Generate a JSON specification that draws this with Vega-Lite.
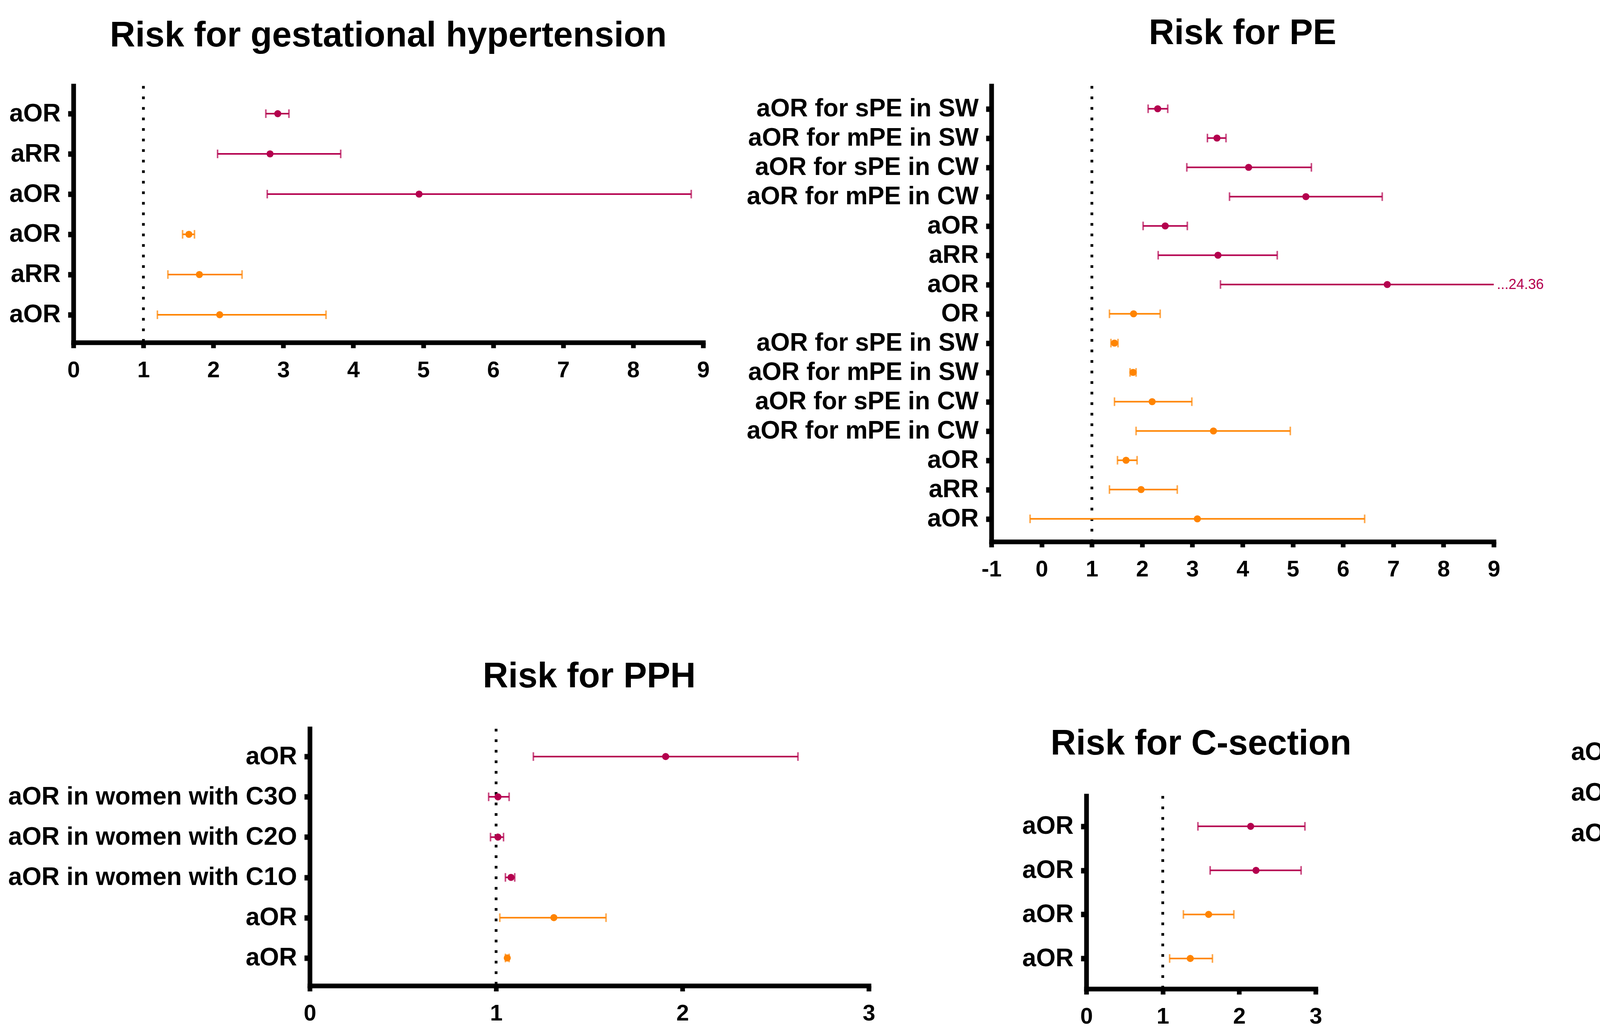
{
  "$schema": "https://vega.github.io/schema/vega-lite/v6.json",
  "padding": {"left": 0, "top": 40, "right": 0, "bottom": 0},
  "background": "white",
  "bounds": "full",
  "spacing": 200,
  "resolve": {"legend": {"color": "independent"}},
  "config": {
    "font": "Liberation Sans",
    "view": {"stroke": null},
    "axis": {"domainColor": "black", "domainWidth": 12, "domainCap": "square", "tickColor": "black", "grid": false, "labelFont": "Liberation Sans", "labelFontWeight": "bold", "labelColor": "black", "labelOverlap": false, "labelFlush": false, "labelLimit": 3000, "title": null},
    "axisX": {"tickSize": 14, "tickWidth": 12, "labelFontSize": 58, "labelPadding": 28},
    "axisY": {"tickSize": 14, "tickWidth": 14, "labelFontSize": 64, "labelPadding": 19},
    "title": {"font": "Liberation Sans", "fontSize": 90, "fontWeight": "bold", "color": "black", "baseline": "alphabetic", "anchor": "middle"}
  },
  "datasets": {
    "rows": [
      {"p":"GH","k":"01|aOR","g":"Obesity","v":2.92,"lo":2.75,"hi":3.08},
      {"p":"GH","k":"02|aRR","g":"Obesity","v":2.81,"lo":2.06,"hi":3.82},
      {"p":"GH","k":"03|aOR","g":"Obesity","v":4.94,"lo":2.77,"hi":8.83},
      {"p":"GH","k":"04|aOR","g":"Overweight","v":1.65,"lo":1.56,"hi":1.73},
      {"p":"GH","k":"05|aRR","g":"Overweight","v":1.80,"lo":1.35,"hi":2.41},
      {"p":"GH","k":"06|aOR","g":"Overweight","v":2.09,"lo":1.20,"hi":3.61},
      {"p":"PE","k":"01|aOR for sPE in SW","g":"Obesity","v":2.31,"lo":2.12,"hi":2.51},
      {"p":"PE","k":"02|aOR for mPE in SW","g":"Obesity","v":3.49,"lo":3.30,"hi":3.67},
      {"p":"PE","k":"03|aOR for sPE in CW","g":"Obesity","v":4.12,"lo":2.89,"hi":5.37},
      {"p":"PE","k":"04|aOR for mPE in CW","g":"Obesity","v":5.26,"lo":3.74,"hi":6.78},
      {"p":"PE","k":"05|aOR","g":"Obesity","v":2.46,"lo":2.02,"hi":2.90},
      {"p":"PE","k":"06|aRR","g":"Obesity","v":3.51,"lo":2.32,"hi":4.69},
      {"p":"PE","k":"07|aOR","g":"Obesity","v":6.88,"lo":3.56,"hi":24.36,"note":"...24.36"},
      {"p":"PE","k":"08|OR","g":"Overweight","v":1.83,"lo":1.35,"hi":2.36},
      {"p":"PE","k":"09|aOR for sPE in SW","g":"Overweight","v":1.45,"lo":1.38,"hi":1.52},
      {"p":"PE","k":"10|aOR for mPE in SW","g":"Overweight","v":1.82,"lo":1.76,"hi":1.88},
      {"p":"PE","k":"11|aOR for sPE in CW","g":"Overweight","v":2.20,"lo":1.45,"hi":2.99},
      {"p":"PE","k":"12|aOR for mPE in CW","g":"Overweight","v":3.42,"lo":1.88,"hi":4.95},
      {"p":"PE","k":"13|aOR","g":"Overweight","v":1.68,"lo":1.51,"hi":1.90},
      {"p":"PE","k":"14|aRR","g":"Overweight","v":1.98,"lo":1.35,"hi":2.70},
      {"p":"PE","k":"15|aOR","g":"Overweight","v":3.10,"lo":-0.23,"hi":6.43},
      {"p":"GDM","k":"01|aOR","g":"Obesity","v":2.77,"lo":2.59,"hi":2.95},
      {"p":"GDM","k":"02|OR","g":"Obesity","v":2.77,"lo":2.18,"hi":3.36},
      {"p":"GDM","k":"03|aOR","g":"Obesity","v":1.43,"lo":0.67,"hi":2.20},
      {"p":"GDM","k":"04|aOR for GDM²","g":"Obesity","v":9.52,"lo":4.41,"hi":38.48,"note":"...38.48"},
      {"p":"GDM","k":"05|aOR for GDM¹","g":"Obesity","v":3.30,"lo":1.51,"hi":5.11},
      {"p":"GDM","k":"06|aOR","g":"Overweight","v":1.79,"lo":1.69,"hi":1.88},
      {"p":"GDM","k":"07|aOR","g":"Overweight","v":1.66,"lo":1.24,"hi":2.09},
      {"p":"GDM","k":"08|aOR for GDM²","g":"Overweight","v":3.99,"lo":-0.51,"hi":8.47},
      {"p":"GDM","k":"09|aOR for GDM¹","g":"Overweight","v":1.35,"lo":0.65,"hi":2.07},
      {"p":"PPH","k":"01|aOR","g":"Obesity","v":1.91,"lo":1.20,"hi":2.62},
      {"p":"PPH","k":"02|aOR in women with C3O","g":"Obesity","v":1.01,"lo":0.96,"hi":1.07},
      {"p":"PPH","k":"03|aOR in women with C2O","g":"Obesity","v":1.01,"lo":0.97,"hi":1.04},
      {"p":"PPH","k":"04|aOR in women with C1O","g":"Obesity","v":1.08,"lo":1.05,"hi":1.10},
      {"p":"PPH","k":"05|aOR","g":"Overweight","v":1.31,"lo":1.02,"hi":1.59},
      {"p":"PPH","k":"06|aOR","g":"Overweight","v":1.06,"lo":1.05,"hi":1.07},
      {"p":"CS","k":"01|aOR","g":"Obesity","v":2.15,"lo":1.46,"hi":2.86},
      {"p":"CS","k":"02|aOR","g":"Obesity","v":2.22,"lo":1.62,"hi":2.81},
      {"p":"CS","k":"03|aOR","g":"Overweight","v":1.60,"lo":1.27,"hi":1.93},
      {"p":"CS","k":"04|aOR","g":"Overweight","v":1.36,"lo":1.09,"hi":1.65},
      {"p":"CSSI","k":"01|aOR in women with C3O","g":"Obesity","v":2.45,"lo":0.95,"hi":3.90},
      {"p":"CSSI","k":"02|aOR in women with C2O","g":"Obesity","v":2.30,"lo":1.25,"hi":3.25},
      {"p":"CSSI","k":"03|aOR in women with C1O","g":"Obesity","v":1.20,"lo":0.80,"hi":1.60},
      {"p":"CSSI","k":"04|aOR","g":"Obesity","v":3.70,"lo":0.70,"hi":6.70},
      {"p":"CSSI","k":"05|aOR","g":"Overweight","v":1.00,"lo":0.80,"hi":1.20},
      {"p":"CSSI","k":"06|aOR","g":"Overweight","v":1.70,"lo":0.45,"hi":2.90}
    ]
  },
  "vconcat": [
    {
      "bounds": "flush",
      "spacing": 0,
      "hconcat": [
        {"width":188,"height":1,"data":{"values":[]},"mark":"point","encoding":{}},
        {
          "width": 1612, "height": 657,
          "title": {"text": "Risk for gestational hypertension", "offset": 79},
          "layer": [
            {"data": {"values": [{}]}, "mark": {"type": "rule", "strokeDash": [7, 20], "strokeWidth": 7, "color": "black"},
             "encoding": {"x": {"datum": 1, "type": "quantitative", "scale": {"domain": [0, 9], "nice": false, "zero": false, "clamp": true}, "axis": {"values": [0,1,2,3,4,5,6,7,8,9], "labelExpr": "'' + datum.value"}}}},
            {"data": {"name": "rows"}, "transform": [{"filter": "datum.p === 'GH'"}],
             "layer": [
              {"mark": {"type": "rule", "strokeWidth": 4}, "encoding": {"y": {"field": "k", "type": "nominal", "title": null, "scale": {"type": "point", "padding": 0.69}, "axis": {"labelExpr": "split(datum.value, '|')[1]"}}, "x": {"field": "lo", "type": "quantitative"}, "x2": {"field": "hi"}, "stroke": {"field": "g", "type": "nominal", "scale": {"domain": ["Obesity", "Overweight"], "range": ["#B4004E", "#FF8400"]}, "legend": null}}},
              {"mark": {"type": "tick", "thickness": 4, "size": 22}, "encoding": {"y": {"field": "k", "type": "nominal"}, "x": {"field": "lo", "type": "quantitative"}, "fill": {"field": "g", "type": "nominal", "scale": {"domain": ["Obesity", "Overweight"], "range": ["#B4004E", "#FF8400"]}, "legend": null}}},
              {"transform": [{"filter": "!datum.note"}], "mark": {"type": "tick", "thickness": 4, "size": 22}, "encoding": {"y": {"field": "k", "type": "nominal"}, "x": {"field": "hi", "type": "quantitative"}, "fill": {"field": "g", "type": "nominal", "scale": {"domain": ["Obesity", "Overweight"], "range": ["#B4004E", "#FF8400"]}, "legend": null}}},
              {"mark": {"type": "point", "filled": true, "size": 330, "opacity": 1}, "encoding": {"y": {"field": "k", "type": "nominal"}, "x": {"field": "v", "type": "quantitative"}, "color": {"field": "g", "type": "nominal", "title": null, "scale": {"domain": ["Obesity", "Overweight"], "range": ["#B4004E", "#FF8400"]}, "legend": null}}}
             ]}
          ]
        },
        {"width":738,"height":1,"data":{"values":[]},"mark":"point","encoding":{}},
        {
          "width": 1286, "height": 1167,
          "title": {"text": "Risk for PE", "offset": 85},
          "layer": [
            {"data": {"values": [{}]}, "mark": {"type": "rule", "strokeDash": [7, 20], "strokeWidth": 7, "color": "black"},
             "encoding": {"x": {"datum": 1, "type": "quantitative", "scale": {"domain": [-1, 9], "nice": false, "zero": false, "clamp": true}, "axis": {"values": [-1,0,1,2,3,4,5,6,7,8,9], "labelExpr": "'' + datum.value"}}}},
            {"data": {"name": "rows"}, "transform": [{"filter": "datum.p === 'PE'"}],
             "layer": [
              {"mark": {"type": "rule", "strokeWidth": 4}, "encoding": {"y": {"field": "k", "type": "nominal", "title": null, "scale": {"type": "point", "padding": 0.78}, "axis": {"labelExpr": "split(datum.value, '|')[1]"}}, "x": {"field": "lo", "type": "quantitative"}, "x2": {"field": "hi"}, "stroke": {"field": "g", "type": "nominal", "scale": {"domain": ["Obesity", "Overweight"], "range": ["#B4004E", "#FF8400"]}, "legend": null}}},
              {"mark": {"type": "tick", "thickness": 4, "size": 22}, "encoding": {"y": {"field": "k", "type": "nominal"}, "x": {"field": "lo", "type": "quantitative"}, "fill": {"field": "g", "type": "nominal", "scale": {"domain": ["Obesity", "Overweight"], "range": ["#B4004E", "#FF8400"]}, "legend": null}}},
              {"transform": [{"filter": "!datum.note"}], "mark": {"type": "tick", "thickness": 4, "size": 22}, "encoding": {"y": {"field": "k", "type": "nominal"}, "x": {"field": "hi", "type": "quantitative"}, "fill": {"field": "g", "type": "nominal", "scale": {"domain": ["Obesity", "Overweight"], "range": ["#B4004E", "#FF8400"]}, "legend": null}}},
              {"mark": {"type": "point", "filled": true, "size": 330, "opacity": 1}, "encoding": {"y": {"field": "k", "type": "nominal"}, "x": {"field": "v", "type": "quantitative"}, "color": {"field": "g", "type": "nominal", "title": null, "scale": {"domain": ["Obesity", "Overweight"], "range": ["#B4004E", "#FF8400"]}, "legend": null}}},
              {"transform": [{"filter": "datum.note"}], "mark": {"type": "text", "align": "left", "baseline": "middle", "dx": 8, "fontSize": 36, "font": "Liberation Sans", "color": "#B4004E"}, "encoding": {"y": {"field": "k", "type": "nominal"}, "x": {"field": "hi", "type": "quantitative"}, "text": {"field": "note"}}}
             ]}
          ]
        },
        {"width":760,"height":1,"data":{"values":[]},"mark":"point","encoding":{}},
        {
          "width": 1641, "height": 854,
          "title": {"text": "Risk for GDM", "offset": 85},
          "layer": [
            {"data": {"values": [{}]}, "mark": {"type": "rule", "strokeDash": [7, 20], "strokeWidth": 7, "color": "black"},
             "encoding": {"x": {"datum": 1, "type": "quantitative", "scale": {"domain": [-1, 13], "nice": false, "zero": false, "clamp": true}, "axis": {"values": [-1,0,1,2,3,4,5,6,7,8,9,10,11,12,13], "labelExpr": "'' + datum.value"}}}},
            {"data": {"name": "rows"}, "transform": [{"filter": "datum.p === 'GDM'"}],
             "layer": [
              {"mark": {"type": "rule", "strokeWidth": 4}, "encoding": {"y": {"field": "k", "type": "nominal", "title": null, "scale": {"type": "point", "padding": 0.71}, "axis": {"labelExpr": "split(datum.value, '|')[1]"}}, "x": {"field": "lo", "type": "quantitative"}, "x2": {"field": "hi"}, "stroke": {"field": "g", "type": "nominal", "scale": {"domain": ["Obesity", "Overweight"], "range": ["#B4004E", "#FF8400"]}, "legend": null}}},
              {"mark": {"type": "tick", "thickness": 4, "size": 22}, "encoding": {"y": {"field": "k", "type": "nominal"}, "x": {"field": "lo", "type": "quantitative"}, "fill": {"field": "g", "type": "nominal", "scale": {"domain": ["Obesity", "Overweight"], "range": ["#B4004E", "#FF8400"]}, "legend": null}}},
              {"transform": [{"filter": "!datum.note"}], "mark": {"type": "tick", "thickness": 4, "size": 22}, "encoding": {"y": {"field": "k", "type": "nominal"}, "x": {"field": "hi", "type": "quantitative"}, "fill": {"field": "g", "type": "nominal", "scale": {"domain": ["Obesity", "Overweight"], "range": ["#B4004E", "#FF8400"]}, "legend": null}}},
              {"mark": {"type": "point", "filled": true, "size": 330, "opacity": 1}, "encoding": {"y": {"field": "k", "type": "nominal"}, "x": {"field": "v", "type": "quantitative"}, "color": {"field": "g", "type": "nominal", "title": null, "scale": {"domain": ["Obesity", "Overweight"], "range": ["#B4004E", "#FF8400"]}, "legend": null}}},
              {"transform": [{"filter": "datum.note"}], "mark": {"type": "text", "align": "left", "baseline": "middle", "dx": 8, "fontSize": 36, "font": "Liberation Sans", "color": "#B4004E"}, "encoding": {"y": {"field": "k", "type": "nominal"}, "x": {"field": "hi", "type": "quantitative"}, "text": {"field": "note"}}}
             ]}
          ]
        }
      ]
    },
    {
      "bounds": "full",
      "spacing": 0,
      "resolve": {"legend": {"color": "independent"}},
      "hconcat": [
        {"width":20,"height":1,"data":{"values":[]},"mark":"point","encoding":{}},
        {
          "bounds": "flush",
          "spacing": 0,
          "vconcat": [
            {"width":1431,"height":14,"data":{"values":[]},"mark":"point","encoding":{}},
            {
              "width": 1431, "height": 658,
              "title": {"text": "Risk for PPH", "offset": 84},
              "layer": [
                {"data": {"values": [{}]}, "mark": {"type": "rule", "strokeDash": [7, 20], "strokeWidth": 7, "color": "black"},
                 "encoding": {"x": {"datum": 1, "type": "quantitative", "scale": {"domain": [0, 3], "nice": false, "zero": false, "clamp": true}, "axis": {"values": [0,1,2,3], "labelExpr": "'' + datum.value"}}}},
                {"data": {"name": "rows"}, "transform": [{"filter": "datum.p === 'PPH'"}],
                 "layer": [
                  {"mark": {"type": "rule", "strokeWidth": 4}, "encoding": {"y": {"field": "k", "type": "nominal", "title": null, "scale": {"type": "point", "padding": 0.69}, "axis": {"labelExpr": "split(datum.value, '|')[1]"}}, "x": {"field": "lo", "type": "quantitative"}, "x2": {"field": "hi"}, "stroke": {"field": "g", "type": "nominal", "scale": {"domain": ["Obesity", "Overweight"], "range": ["#B4004E", "#FF8400"]}, "legend": null}}},
                  {"mark": {"type": "tick", "thickness": 4, "size": 22}, "encoding": {"y": {"field": "k", "type": "nominal"}, "x": {"field": "lo", "type": "quantitative"}, "fill": {"field": "g", "type": "nominal", "scale": {"domain": ["Obesity", "Overweight"], "range": ["#B4004E", "#FF8400"]}, "legend": null}}},
                  {"transform": [{"filter": "!datum.note"}], "mark": {"type": "tick", "thickness": 4, "size": 22}, "encoding": {"y": {"field": "k", "type": "nominal"}, "x": {"field": "hi", "type": "quantitative"}, "fill": {"field": "g", "type": "nominal", "scale": {"domain": ["Obesity", "Overweight"], "range": ["#B4004E", "#FF8400"]}, "legend": null}}},
                  {"mark": {"type": "point", "filled": true, "size": 330, "opacity": 1}, "encoding": {"y": {"field": "k", "type": "nominal"}, "x": {"field": "v", "type": "quantitative"}, "color": {"field": "g", "type": "nominal", "title": null, "scale": {"domain": ["Obesity", "Overweight"], "range": ["#B4004E", "#FF8400"]}, "legend": null}}}
                 ]}
              ]
            }
          ]
        },
        {"width":375,"height":1,"data":{"values":[]},"mark":"point","encoding":{}},
        {
          "bounds": "flush",
          "spacing": 0,
          "vconcat": [
            {"width":587,"height":186,"data":{"values":[]},"mark":"point","encoding":{}},
            {
              "width": 587, "height": 494,
              "title": {"text": "Risk for C-section", "offset": 84},
              "layer": [
                {"data": {"values": [{}]}, "mark": {"type": "rule", "strokeDash": [7, 20], "strokeWidth": 7, "color": "black"},
                 "encoding": {"x": {"datum": 1, "type": "quantitative", "scale": {"domain": [0, 3], "nice": false, "zero": false, "clamp": true}, "axis": {"values": [0,1,2,3], "labelExpr": "'' + datum.value"}}}},
                {"data": {"name": "rows"}, "transform": [{"filter": "datum.p === 'CS'"}],
                 "layer": [
                  {"mark": {"type": "rule", "strokeWidth": 4}, "encoding": {"y": {"field": "k", "type": "nominal", "title": null, "scale": {"type": "point", "padding": 0.69}, "axis": {"labelExpr": "split(datum.value, '|')[1]"}}, "x": {"field": "lo", "type": "quantitative"}, "x2": {"field": "hi"}, "stroke": {"field": "g", "type": "nominal", "scale": {"domain": ["Obesity", "Overweight"], "range": ["#B4004E", "#FF8400"]}, "legend": null}}},
                  {"mark": {"type": "tick", "thickness": 4, "size": 22}, "encoding": {"y": {"field": "k", "type": "nominal"}, "x": {"field": "lo", "type": "quantitative"}, "fill": {"field": "g", "type": "nominal", "scale": {"domain": ["Obesity", "Overweight"], "range": ["#B4004E", "#FF8400"]}, "legend": null}}},
                  {"transform": [{"filter": "!datum.note"}], "mark": {"type": "tick", "thickness": 4, "size": 22}, "encoding": {"y": {"field": "k", "type": "nominal"}, "x": {"field": "hi", "type": "quantitative"}, "fill": {"field": "g", "type": "nominal", "scale": {"domain": ["Obesity", "Overweight"], "range": ["#B4004E", "#FF8400"]}, "legend": null}}},
                  {"mark": {"type": "point", "filled": true, "size": 330, "opacity": 1}, "encoding": {"y": {"field": "k", "type": "nominal"}, "x": {"field": "v", "type": "quantitative"}, "color": {"field": "g", "type": "nominal", "title": null, "scale": {"domain": ["Obesity", "Overweight"], "range": ["#B4004E", "#FF8400"]}, "legend": null}}}
                 ]}
              ]
            }
          ]
        },
        {"width":561,"height":1,"data":{"values":[]},"mark":"point","encoding":{}},
        {
          "width": 836, "height": 670,
          "title": {"text": "Risk for CSSI", "offset": 70},
          "layer": [
            {"data": {"values": [{}]}, "mark": {"type": "rule", "strokeDash": [7, 20], "strokeWidth": 7, "color": "black"},
             "encoding": {"x": {"datum": 1, "type": "quantitative", "scale": {"domain": [0, 7], "nice": false, "zero": false, "clamp": true}, "axis": {"values": [0,1,2,3,4,5,6,7], "labelExpr": "'' + datum.value"}}}},
            {"data": {"name": "rows"}, "transform": [{"filter": "datum.p === 'CSSI'"}],
             "layer": [
              {"mark": {"type": "rule", "strokeWidth": 4}, "encoding": {"y": {"field": "k", "type": "nominal", "title": null, "scale": {"type": "point", "padding": 0.71}, "axis": {"labelExpr": "split(datum.value, '|')[1]"}}, "x": {"field": "lo", "type": "quantitative"}, "x2": {"field": "hi"}, "stroke": {"field": "g", "type": "nominal", "scale": {"domain": ["Obesity", "Overweight"], "range": ["#B4004E", "#FF8400"]}, "legend": null}}},
              {"mark": {"type": "tick", "thickness": 4, "size": 22}, "encoding": {"y": {"field": "k", "type": "nominal"}, "x": {"field": "lo", "type": "quantitative"}, "fill": {"field": "g", "type": "nominal", "scale": {"domain": ["Obesity", "Overweight"], "range": ["#B4004E", "#FF8400"]}, "legend": null}}},
              {"transform": [{"filter": "!datum.note"}], "mark": {"type": "tick", "thickness": 4, "size": 22}, "encoding": {"y": {"field": "k", "type": "nominal"}, "x": {"field": "hi", "type": "quantitative"}, "fill": {"field": "g", "type": "nominal", "scale": {"domain": ["Obesity", "Overweight"], "range": ["#B4004E", "#FF8400"]}, "legend": null}}},
              {"mark": {"type": "point", "filled": true, "size": 330, "opacity": 1}, "encoding": {"y": {"field": "k", "type": "nominal"}, "x": {"field": "v", "type": "quantitative"}, "color": {"field": "g", "type": "nominal", "title": null, "scale": {"domain": ["Obesity", "Overweight"], "range": ["#B4004E", "#FF8400"]}, "legend": {"orient": "none", "legendX": 1030, "legendY": 250, "padding": 0, "symbolType": "M-1,-0.5H1V0.5H-1Z", "symbolSize": 6724, "symbolStrokeWidth": 0, "symbolOpacity": 1, "labelFontSize": 44, "labelLimit": 1000, "labelFont": "Liberation Sans", "labelColor": "black", "labelOffset": 16, "rowPadding": 12}}}}
             ]}
          ]
        }
      ]
    }
  ]
}
